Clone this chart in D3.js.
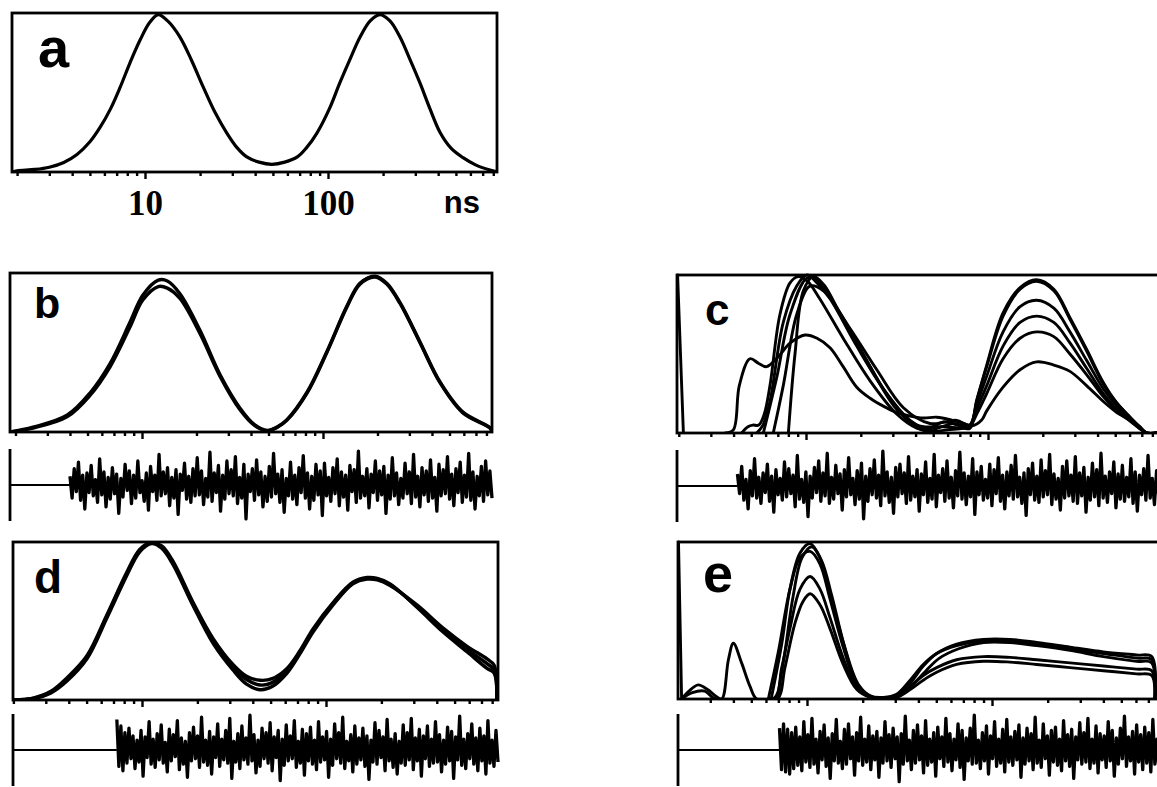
<!DOCTYPE html>
<html><head><meta charset="utf-8">
<script src="https://cdn.jsdelivr.net/npm/d3@7"></script>
<style>body{margin:0;background:#fff}svg{display:block}</style>
</head><body>
<svg id="chart" width="1157" height="787"></svg>
<script>
// ---------- DATA (time in ns, amplitude normalised 0..1) ----------
const panelLetters = ["a", "b", "c", "d", "e"];
const majorTicks = [10, 100];
const majorTickLabels = ["10", "100"];
const unitLabel = "ns";
const minorTicks = [2,3,4,5,6,7,8,9,20,30,40,50,60,70,80,90,200,300,400,500,600,700,800];

const curveA = [[1.87,0],[2.0,0.008],[2.5,0.016],[3.0,0.03],[3.6,0.06],[4.25,0.11],[5.0,0.19],[5.68,0.28],[6.5,0.4],[7.3,0.53],[8.3,0.69],[9.4,0.83],[10.6,0.94],[11.8,0.99],[13.3,0.95],[15.5,0.85],[18,0.7],[20.7,0.54],[24,0.38],[28,0.245],[32,0.15],[36,0.095],[42,0.062],[49.4,0.048],[58,0.062],[68,0.095],[76,0.15],[87,0.245],[102,0.4],[116,0.56],[132,0.71],[150,0.85],[170,0.95],[192,0.99],[218,0.95],[247,0.85],[280,0.71],[318,0.56],[360,0.4],[409,0.25],[470,0.15],[547,0.09],[640,0.045],[767,0.012],[840,0]];

const curveB1 = [[1.87,0],[2.5,0.025],[3.85,0.095],[5.16,0.23],[6.66,0.41],[8.58,0.66],[10.1,0.83],[12.3,0.915],[13.8,0.905],[16.2,0.84],[20.9,0.62],[27,0.35],[34.8,0.14],[42,0.04],[49.1,0.008],[56,0.03],[63.3,0.075],[81.6,0.245],[105,0.5],[136,0.79],[160,0.93],[194,0.975],[225,0.93],[266,0.81],[344,0.56],[443,0.31],[593,0.12],[837,0.025],[859,0]];
const curveB2 = [[1.87,0],[2.5,0.03],[3.85,0.105],[5.16,0.245],[6.66,0.43],[8.58,0.69],[10.1,0.86],[12.3,0.955],[13.8,0.95],[16.2,0.87],[20.9,0.64],[27,0.36],[34.8,0.15],[42,0.045],[49.1,0.01],[56,0.033],[63.3,0.078],[81.6,0.25],[105,0.505],[136,0.795],[160,0.935],[194,0.98],[225,0.935],[266,0.815],[344,0.565],[443,0.315],[593,0.125],[837,0.027],[859,0]];

const curveCS = [[1.97,1.0],[2.12,0]];
const curveC1 = [[3.6,0],[3.99,0.02],[4.3,0.3],[4.92,0.47],[5.5,0.44],[6.08,0.42],[7.0,0.48],[8.2,0.57],[9.87,0.62],[11.5,0.6],[13.55,0.54],[16,0.42],[19.0,0.29],[22.5,0.22],[26.6,0.17],[31.5,0.13],[37.3,0.107],[44,0.095],[52.2,0.1],[62,0.085],[73.2,0.06],[82,0.045],[92,0.08],[98.4,0.14],[121,0.29],[150,0.4],[185,0.45],[230,0.43],[282,0.39],[348,0.3],[430,0.2],[510,0.13],[603,0.08],[680,0.03],[745,0],[845,0]];
const curveC2 = [[4.43,0],[4.8,0.04],[5.1,0.05],[5.5,0.05],[5.9,0.12],[6.34,0.3],[7.19,0.75],[8.17,0.95],[9.07,0.99],[10.2,0.96],[11.9,0.85],[16.0,0.6],[22.5,0.33],[31.5,0.12],[40.6,0.03],[48,0.01],[60,0.02],[79.6,0.05],[86.7,0.21],[98.4,0.42],[121,0.74],[150,0.91],[185,0.96],[230,0.9],[282,0.72],[348,0.52],[430,0.31],[510,0.19],[603,0.1],[680,0.04],[745,0],[845,0]];
const curveC3 = [[5.36,0],[5.8,0.05],[6.34,0.2],[7.5,0.7],[8.89,0.93],[10.1,1.0],[11.5,0.95],[13.55,0.85],[19.0,0.55],[26.6,0.28],[37.3,0.08],[48,0.02],[56,0.04],[64.5,0.06],[72,0.05],[79.6,0.05],[86.7,0.18],[98.4,0.36],[121,0.64],[150,0.8],[185,0.84],[230,0.79],[282,0.64],[348,0.46],[430,0.28],[510,0.17],[603,0.09],[680,0.04],[745,0],[845,0]];
const curveC4 = [[5.83,0],[6.9,0.35],[8.17,0.75],[10.1,0.98],[11.45,0.97],[16.0,0.72],[22.5,0.42],[31.5,0.15],[44.1,0.02],[50,0.04],[56.8,0.07],[73.2,0.04],[79.6,0.04],[86.7,0.15],[98.4,0.3],[121,0.55],[150,0.7],[185,0.74],[230,0.7],[282,0.57],[348,0.41],[430,0.25],[510,0.15],[603,0.08],[680,0.03],[745,0],[845,0]];
const curveC5 = [[6.61,0],[7.5,0.3],[8.89,0.75],[10.5,0.93],[12.45,0.9],[17.5,0.66],[24.5,0.4],[34.3,0.16],[48,0.06],[58,0.07],[67.3,0.08],[79.6,0.05],[86.7,0.12],[98.4,0.25],[121,0.47],[150,0.6],[185,0.64],[230,0.61],[282,0.5],[348,0.37],[430,0.23],[510,0.14],[603,0.075],[680,0.03],[745,0],[845,0]];
const curveC6 = [[8.0,0],[8.7,0.5],[9.67,0.9],[10.97,0.99],[12.5,0.94],[14.7,0.8],[20.6,0.5],[28.9,0.22],[40.6,0.05],[56.8,0.04],[73.2,0.03],[79.6,0.03],[86.7,0.2],[98.4,0.43],[121,0.76],[150,0.92],[185,0.97],[230,0.91],[282,0.73],[348,0.53],[430,0.32],[510,0.19],[603,0.1],[680,0.04],[745,0],[845,0]];

const curveD1 = [[1.99,0],[2.56,0.01],[3.2,0.05],[3.91,0.13],[5.02,0.27],[6.45,0.53],[8.28,0.8],[9.75,0.95],[11.3,0.995],[12.8,0.97],[14.7,0.87],[18.9,0.61],[24.3,0.38],[31.2,0.21],[37,0.13],[43.8,0.095],[51,0.11],[61.4,0.19],[72,0.3],[85,0.44],[109,0.61],[140,0.74],[167,0.77],[190,0.765],[223,0.73],[313,0.59],[433,0.44],[584,0.32],[750,0.23],[820,0.19],[849,0]];
const curveD2 = [[1.99,0],[2.56,0.008],[3.2,0.045],[3.91,0.12],[5.02,0.26],[6.45,0.52],[8.28,0.79],[9.75,0.94],[11.3,0.99],[12.8,0.96],[14.7,0.86],[18.9,0.6],[24.3,0.36],[31.2,0.19],[37,0.1],[43.8,0.065],[51,0.085],[61.4,0.17],[72,0.29],[85,0.43],[109,0.6],[140,0.735],[167,0.765],[190,0.76],[223,0.725],[313,0.6],[433,0.455],[584,0.34],[750,0.26],[820,0.22],[849,0]];
const curveD3 = [[1.99,0],[2.56,0.012],[3.2,0.055],[3.91,0.14],[5.02,0.28],[6.45,0.54],[8.28,0.81],[9.75,0.955],[11.3,0.995],[12.8,0.975],[14.7,0.88],[18.9,0.62],[24.3,0.39],[31.2,0.225],[37,0.15],[43.8,0.125],[51,0.135],[61.4,0.2],[72,0.31],[85,0.45],[109,0.615],[140,0.745],[167,0.775],[190,0.77],[223,0.735],[313,0.585],[433,0.43],[584,0.305],[750,0.2],[820,0.17],[849,0]];

const curveES = [[2.02,1.0],[2.1,0]];
const curveE1 = [[2.1,0],[2.3,0.05],[2.58,0.09],[2.9,0.06],[3.2,0.02],[3.46,0],[3.76,0.25],[4.0,0.355],[4.43,0.23],[4.92,0.08],[5.35,0],[6.9,0],[7.6,0.2],[8.6,0.48],[9.5,0.62],[10.4,0.67],[11.75,0.6],[13.3,0.45],[15.7,0.22],[18.6,0.06],[21.9,0.01],[25.9,0],[30.5,0.01],[36.1,0.06],[42.5,0.12],[50.2,0.17],[64.4,0.22],[89.8,0.24],[125,0.235],[174.5,0.22],[264,0.2],[400,0.18],[605,0.16],[730,0.15],[760,0]];
const curveE2 = [[2.1,0],[2.4,0.04],[2.8,0.05],[3.2,0],[6.58,0],[7.3,0.2],[8.09,0.45],[9.17,0.7],[10.4,0.78],[11.75,0.7],[13.3,0.52],[15.7,0.26],[18.6,0.07],[21.9,0.015],[25.9,0],[30.5,0.02],[36.1,0.08],[42.5,0.15],[50.2,0.2],[64.4,0.25],[89.8,0.27],[125,0.265],[174.5,0.25],[264,0.23],[400,0.21],[605,0.19],[730,0.18],[760,0]];
const curveE3 = [[6.18,0],[7.0,0.3],[8.09,0.7],[9.17,0.9],[10.4,0.94],[11.75,0.86],[13.3,0.64],[15.7,0.33],[18.6,0.09],[21.9,0.02],[25.9,0.01],[30.5,0.03],[36.1,0.12],[42.5,0.22],[50.2,0.29],[64.4,0.34],[89.8,0.37],[125,0.37],[174.5,0.35],[264,0.32],[400,0.29],[605,0.26],[730,0.25],[760,0]];
const curveE4 = [[6.4,0],[7.3,0.35],[8.09,0.7],[9.17,0.93],[10.4,0.99],[11.75,0.9],[13.3,0.68],[15.7,0.36],[18.6,0.1],[21.9,0.02],[25.9,0],[30.5,0.02],[36.1,0.1],[42.5,0.21],[50.2,0.29],[64.4,0.35],[89.8,0.38],[125,0.38],[174.5,0.36],[264,0.33],[400,0.3],[605,0.28],[730,0.27],[760,0]];
const curveE5 = [[6.9,0],[7.6,0.3],[8.4,0.65],[9.4,0.9],[10.6,0.97],[12,0.88],[13.6,0.66],[16,0.33],[19,0.09],[22.5,0.01],[27,0],[33,0.04],[38,0.1],[44,0.18],[52,0.26],[66,0.32],[90,0.36],[125,0.36],[174.5,0.34],[264,0.31],[400,0.27],[605,0.24],[730,0.23],[760,0]];

// residuals (weighted, in standard deviations) and the time at which each starts
const residStartB = 4.0, residStartC = 4.2, residStartD = 7.3, residStartE = 7.1;
const residB = [0.8,-1.2,1.5,-0.6,2.1,-1.4,0.9,-2.2,1.1,-0.7,1.8,-1.0,0.5,-1.6,2.4,-0.9,1.2,-2.0,0.7,-1.3,1.6,-0.8,1.0,-2.6,0.6,-1.1,1.9,-0.5,1.3,-1.7,0.9,-1.2,2.2,-0.7,0.4,-1.5,1.1,-2.3,1.7,-0.6,0.9,-1.4,2.8,-1.0,1.2,-0.8,1.6,-1.9,0.7,-1.2,1.4,-2.7,1.0,-0.5,2.0,-1.3,0.8,-1.6,1.5,-1.0,2.5,-0.9,1.3,-1.8,0.6,-1.1,3.0,-1.5,1.1,-0.7,1.8,-2.4,0.9,-1.3,2.2,-0.8,1.4,-1.0,2.6,-1.7,0.7,-1.2,1.9,-3.1,1.0,-0.6,1.5,-1.4,2.3,-0.9,1.2,-2.0,0.8,-1.5,1.7,-1.1,2.9,-0.8,1.0,-1.6,1.4,-2.5,0.6,-1.0,2.1,-1.3,0.9,-1.8,1.6,-0.7,2.7,-1.2,1.1,-2.2,0.8,-1.4,1.9,-0.9,1.3,-2.8,2.0,-1.0,0.7,-1.5,1.6,-0.8,2.4,-1.9,1.2,-1.1,0.9,-2.3,1.8,-0.6,1.4,-1.6,3.1,-1.2,0.8,-1.0,1.5,-2.1,1.0,-0.7,2.2,-1.4,1.3,-0.9,1.7,-2.6,0.9,-1.3,2.5,-1.0,1.1,-1.8,0.6,-1.2,2.0,-0.8,1.2,-1.7,2.8,-1.1,0.8,-2.0,1.6,-0.9,1.3,-1.5,2.3,-1.2,0.7,-2.4,1.9,-1.0,1.4,-0.8,2.6,-1.3,1.0,-1.9,1.5,-0.7,2.1,-1.6,0.9,-1.1,2.9,-1.4,1.2,-2.2,0.8,-1.0,1.7,-1.5,2.2,-0.9,1.3,-1.2];
const residC = [1.1,-0.7,1.8,-1.3,0.6,-2.1,1.4,-0.9,2.5,-1.1,0.8,-1.6,1.2,-0.6,2.0,-1.4,0.9,-2.4,1.5,-0.8,0.7,-1.3,2.2,-1.0,1.6,-0.7,1.0,-1.9,2.8,-1.2,0.6,-1.5,1.3,-2.8,0.9,-1.1,1.7,-0.6,2.3,-1.4,1.2,-0.9,3.0,-1.6,0.8,-1.2,1.9,-0.7,1.1,-2.2,1.5,-1.0,2.6,-0.8,0.7,-1.7,1.4,-1.2,2.1,-3.0,0.9,-1.4,1.6,-0.8,2.4,-1.1,1.0,-1.8,3.2,-0.9,1.3,-1.5,0.8,-2.5,1.7,-1.0,2.0,-0.7,1.2,-1.6,2.7,-1.3,0.9,-1.0,1.5,-2.3,1.1,-0.8,2.2,-1.5,0.7,-1.2,2.9,-1.9,1.0,-0.6,1.6,-1.4,2.3,-1.1,0.8,-2.0,1.4,-0.9,3.1,-1.2,1.2,-1.7,0.9,-1.0,2.5,-2.6,1.3,-0.8,1.8,-1.3,0.6,-1.1,2.0,-1.8,1.5,-0.7,2.6,-1.4,1.0,-2.1,1.3,-0.9,1.9,-1.2,2.8,-1.0,0.8,-1.6,1.2,-2.7,1.6,-0.8,2.1,-1.3,0.9,-1.5,2.4,-1.0,1.4,-0.8,2.9,-1.7,1.1,-1.2,0.7,-2.2,1.8,-1.1,2.3,-0.9,1.0,-1.4,2.7,-1.6,1.2,-0.9,1.7,-2.4,0.8,-1.3,2.1,-1.0,1.5,-1.8,3.0,-1.1,0.9,-1.5,1.3,-0.7,2.2,-2.0,1.1,-1.2,1.9,-1.4,0.8,-1.0,2.5,-1.6,1.3,-2.3,1.0,-0.8,1.6,-1.3,2.8,-1.1,0.7,-1.7,1.4,-0.9,2.0,-1.5];
const residD = [2.8,-1.5,2.2,-1.9,1.6,-1.2,2.0,-0.8,1.3,-1.7,0.9,-1.1,1.8,-2.4,1.2,-0.7,2.6,-1.3,1.0,-1.6,1.5,-0.9,2.3,-1.2,0.7,-2.0,1.9,-1.0,1.4,-0.6,2.7,-1.8,1.1,-1.3,0.8,-2.5,1.6,-1.0,2.1,-0.8,1.3,-1.6,3.0,-1.1,0.9,-1.4,1.7,-2.2,1.2,-0.7,2.4,-1.5,1.0,-0.9,1.8,-1.2,2.9,-2.6,0.8,-1.1,1.5,-1.7,2.2,-0.9,1.1,-1.3,3.2,-1.0,1.4,-2.1,0.9,-1.5,2.0,-0.8,1.6,-1.2,2.5,-1.9,1.2,-0.7,1.8,-2.8,1.0,-1.4,2.3,-1.0,1.3,-0.8,2.7,-1.6,0.8,-1.2,1.9,-2.3,1.5,-1.0,2.1,-1.3,0.9,-1.8,2.6,-1.1,1.2,-0.9,1.7,-2.5,1.0,-1.4,2.4,-0.8,1.6,-1.2,3.0,-1.7,0.8,-1.0,1.4,-2.0,2.2,-1.3,1.1,-0.9,2.0,-1.5,1.3,-2.7,0.9,-1.1,2.5,-1.3,1.8,-0.7,1.2,-1.9,2.8,-1.0,1.0,-1.6,1.5,-2.2,0.8,-1.2,2.3,-1.4,1.6,-0.9,2.9,-1.8,1.1,-1.0,1.9,-2.4,1.3,-0.8,2.2,-1.5,1.0,-1.2,2.6,-1.1,1.4,-2.0,0.9,-1.3,2.1,-1.0,1.7,-2.6,1.2,-0.9,3.1,-1.4,1.0,-1.7,1.5,-0.8,2.4,-1.3,1.1,-1.9,2.0,-1.0,1.3,-2.2,2.7,-1.2,0.9,-1.5,1.8,-1.1];
const residE = [2.0,-1.8,2.4,-2.0,1.9,-2.2,1.6,-1.7,2.1,-1.4,1.2,-1.9,2.6,-1.1,1.4,-1.6,2.9,-1.3,1.0,-2.1,1.7,-0.9,2.3,-1.5,1.1,-2.6,1.5,-1.0,2.8,-1.2,0.8,-1.7,1.9,-1.3,2.4,-0.8,1.2,-2.3,1.6,-1.0,3.0,-1.4,1.0,-1.1,2.2,-1.8,1.3,-0.9,1.7,-2.5,1.1,-1.2,2.6,-1.0,1.4,-1.6,2.0,-0.8,1.2,-2.9,1.5,-1.3,3.1,-1.0,0.9,-1.8,1.8,-1.2,2.3,-0.9,1.3,-2.1,2.7,-1.4,1.0,-1.1,1.6,-2.4,2.1,-0.8,1.2,-1.5,2.9,-1.1,1.5,-1.9,1.0,-0.9,2.4,-1.6,1.8,-2.7,1.1,-1.0,2.0,-1.3,3.2,-1.2,0.9,-1.7,1.6,-1.0,2.2,-2.2,1.3,-0.8,2.6,-1.5,1.0,-1.2,1.9,-2.0,2.8,-1.1,1.2,-1.4,1.7,-0.9,2.3,-2.5,1.1,-1.3,2.0,-1.0,1.5,-1.8,3.0,-1.2,0.9,-1.6,2.4,-0.8,1.3,-2.3,1.8,-1.1,2.1,-1.4,1.0,-1.9,2.7,-1.0,1.4,-1.5,1.9,-2.6,1.2,-0.9,2.5,-1.3,1.6,-1.1,2.9,-1.7,1.0,-1.2,2.2,-2.1,1.5,-0.9,1.3,-1.6,2.6,-1.0,1.8,-2.4,1.1,-1.3,2.0,-0.8,3.1,-1.5,1.2,-1.0,1.7,-2.2,2.3,-1.1,1.4,-1.8,2.1,-1.2,1.6,-2.0,2.8,-1.3,1.0,-1.6,2.4,-1.4];

// ---------- LAYOUT ----------
const layout = {
  a: {left:12,  right:497,  top:13,  bottom:172, x10:145, x100:328, lw:3.2, fs:56, lx:38,  ly:67},
  b: {left:10,  right:492,  top:273, bottom:432, x10:142, x100:323, lw:3.4, fs:43, lx:34,  ly:318, rBase:485, rHalf:36},
  c: {left:677, right:1163, top:275, bottom:433, x10:806, x100:988, lw:2.9, fs:44, lx:705, ly:325, rBase:486, rHalf:36},
  d: {left:13,  right:498,  top:542, bottom:700, x10:142, x100:326, lw:3.4, fs:46, lx:34,  ly:593, rBase:750, rHalf:36},
  e: {left:678, right:1163, top:542, bottom:699, x10:807, x100:992, lw:2.9, fs:54, lx:703, ly:592, rBase:750, rHalf:36}
};
const panelCurves = {
  a: [curveA],
  b: [curveB1, curveB2],
  c: [curveCS, curveC1, curveC2, curveC3, curveC4, curveC5, curveC6],
  d: [curveD1, curveD2, curveD3],
  e: [curveES, curveE1, curveE2, curveE3, curveE4, curveE5]
};
const panelResid = {
  b: [residB, residStartB], c: [residC, residStartC],
  d: [residD, residStartD], e: [residE, residStartE]
};

const svg = d3.select("#chart");
const ink = "#000";

panelLetters.forEach(p => {
  const L = layout[p];
  const x = d3.scaleLog().domain(majorTicks).range([L.x10, L.x100]);
  const dom = [x.invert(L.left), x.invert(L.right)];
  const y = d3.scaleLinear().domain([0, 1]).range([L.bottom, L.top]);
  const g = svg.append("g");

  const clipId = "clip-" + p;
  svg.append("clipPath").attr("id", clipId).append("rect")
    .attr("x", L.left).attr("y", L.top - 2).attr("width", L.right - L.left).attr("height", L.bottom - L.top + 3);

  const line = d3.line().x(d => x(d[0])).y(d => y(d[1])).curve(d3.curveCatmullRom.alpha(0.5));
  g.append("g").attr("clip-path", `url(#${clipId})`)
    .selectAll("path").data(panelCurves[p]).join("path")
    .attr("d", line).attr("fill", "none").attr("stroke", ink)
    .attr("stroke-width", L.lw).attr("stroke-linejoin", "round").attr("stroke-linecap", "round");

  // frame
  g.append("rect").attr("x", L.left).attr("y", L.top)
    .attr("width", L.right - L.left).attr("height", L.bottom - L.top)
    .attr("fill", "none").attr("stroke", ink).attr("stroke-width", 2.8);

  // ticks
  const inDom = v => v >= dom[0] && v <= dom[1];
  const minorAxis = d3.axisBottom(x).tickValues(minorTicks.filter(inDom)).tickSize(4).tickFormat("");
  const majorAxis = d3.axisBottom(x).tickValues(majorTicks).tickSize(7)
      .tickFormat((d, i) => p === "a" ? majorTickLabels[i] : "");
  [minorAxis, majorAxis].forEach(ax => {
    const ag = g.append("g").attr("transform", `translate(0,${L.bottom})`).call(ax);
    ag.select(".domain").remove();
    ag.selectAll("line").attr("stroke", ink).attr("stroke-width", 2.4);
    ag.selectAll("text").attr("y", 43).attr("dy", 0)
      .attr("font-family", "'Liberation Serif', 'DejaVu Serif', serif")
      .attr("font-weight", "bold").attr("font-size", 35).attr("fill", ink);
  });
  if (p === "a") {
    g.append("text").attr("x", L.right - 17).attr("y", 213).attr("text-anchor", "end")
      .attr("font-family", "'Liberation Sans', Arial, sans-serif").attr("font-weight", "bold")
      .attr("font-size", 31).attr("fill", ink).text(unitLabel);
  }

  // panel letter
  g.append("text").attr("x", L.lx).attr("y", L.ly)
    .attr("font-family", "'Liberation Sans', Arial, sans-serif").attr("font-weight", "bold")
    .attr("font-size", L.fs).attr("fill", ink).text(p);

  // residuals
  if (panelResid[p]) {
    const [res, start] = panelResid[p];
    const ry = d3.scaleLinear().domain([-3.3, 3.3]).range([L.rBase + L.rHalf, L.rBase - L.rHalf]);
    const rx = d3.scaleLinear().domain([0, res.length - 1]).range([x(start), L.right]);
    g.append("line").attr("x1", L.left).attr("x2", L.left)
      .attr("y1", ry(3.3)).attr("y2", ry(-3.3)).attr("stroke", ink).attr("stroke-width", 2.8);
    g.append("line").attr("x1", L.left).attr("x2", x(start))
      .attr("y1", ry(0)).attr("y2", ry(0)).attr("stroke", ink).attr("stroke-width", 2.2);
    const rl = d3.line().x((d, i) => rx(i)).y(d => ry(d));
    g.append("path").datum(res).attr("d", rl).attr("fill", "none")
      .attr("stroke", ink).attr("stroke-width", 3.3).attr("stroke-linejoin", "round");
  }
});
</script>
</body></html>
